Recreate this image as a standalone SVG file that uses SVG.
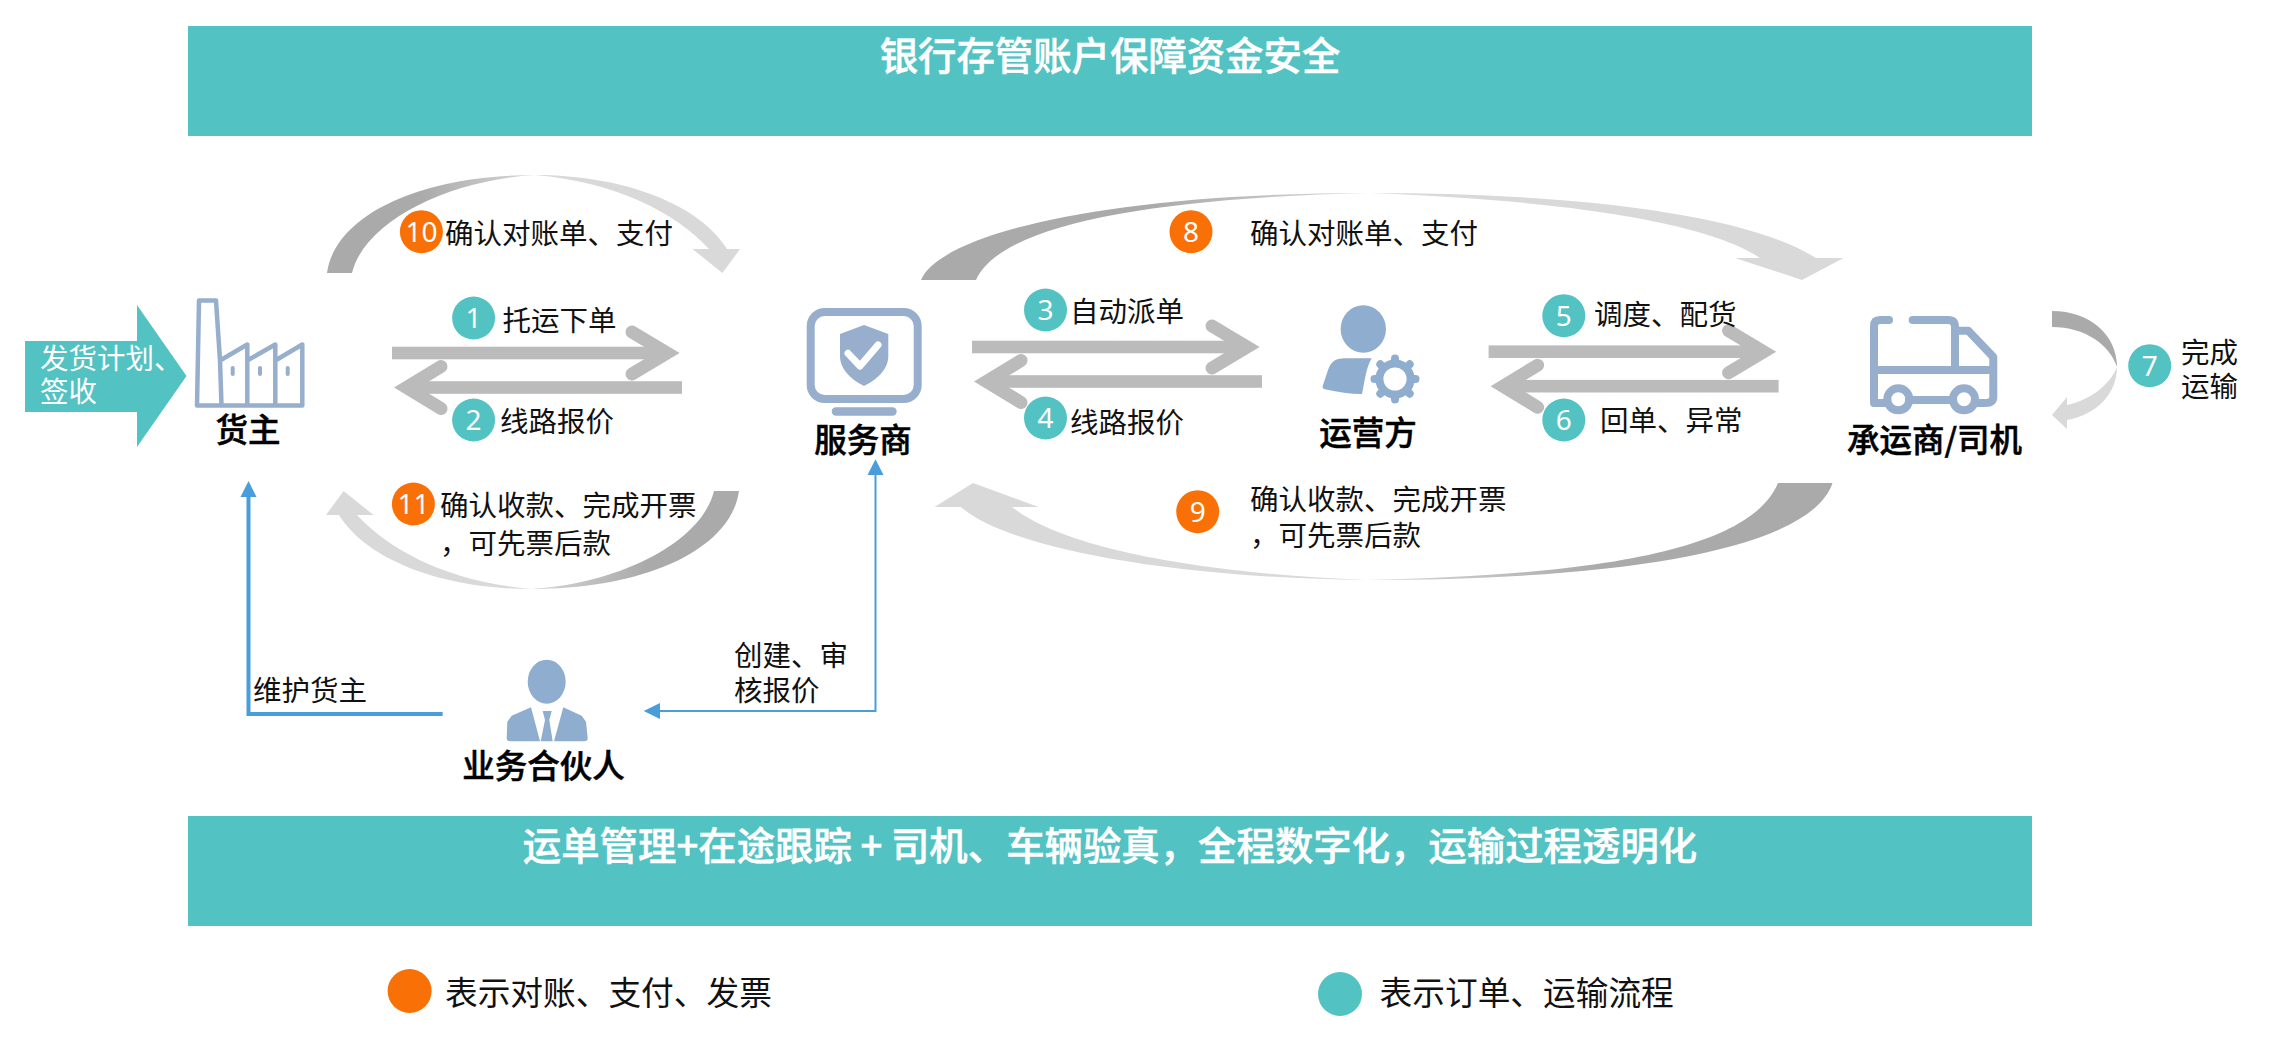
<svg xmlns="http://www.w3.org/2000/svg" xmlns:xlink="http://www.w3.org/1999/xlink" width="2272" height="1040" viewBox="0 0 2272 1040">
<style>
text{font-family:"Noto Sans CJK SC","Noto Sans",sans-serif;fill:#111}
.t{font-size:28.5px}
.n{font-size:32.5px;font-weight:500;text-anchor:middle;fill:#000;stroke:#000;stroke-width:.5}
.lg{font-size:32.7px}
.bt{font-size:38.4px;font-weight:500;fill:#fff;text-anchor:middle;stroke:#fff;stroke-width:.5}
.num{font-size:28px;fill:#fff;text-anchor:middle;font-family:"Noto Sans",sans-serif}
.teal{fill:#53C2C2}.orange{fill:#F97106}
.ic{fill:none;stroke:#97AECC;stroke-width:8;stroke-linecap:round;stroke-linejoin:round}
.fi{fill:#8FADCE}
.bar{fill:#BBBBBB}
.chev{fill:none;stroke:#BBBBBB;stroke-width:13;stroke-linecap:round;stroke-linejoin:miter}
.lt{fill:#D9D9D9}
.blue{fill:none;stroke:#4A9DDB}
.bh{fill:#4A9DDB}
</style>
<defs>
<linearGradient id="gr1" gradientUnits="userSpaceOnUse" x1="420" y1="0" x2="540" y2="0"><stop offset="0" stop-color="#AAAAAA"/><stop offset="1" stop-color="#D9D9D9"/></linearGradient>
<linearGradient id="gr2" gradientUnits="userSpaceOnUse" x1="1150" y1="0" x2="1370" y2="0"><stop offset="0" stop-color="#AAAAAA"/><stop offset="1" stop-color="#D9D9D9"/></linearGradient>
<linearGradient id="gr3" gradientUnits="userSpaceOnUse" x1="1600" y1="0" x2="1370" y2="0"><stop offset="0" stop-color="#AAAAAA"/><stop offset="1" stop-color="#D9D9D9"/></linearGradient>
<g id="pair">
<rect class="bar" x="392" y="346.7" width="276" height="12.6"/>
<path class="chev" d="M632,332L667,353L632,374"/>
<rect class="bar" x="406" y="381.2" width="276" height="12.6"/>
<path class="chev" d="M441,366.5L406.5,387.5L441,408.5"/>
</g>
<g id="curve"><path fill="url(#gr1)" d="M327,273C335,215 420,175 535,175C450,180 365,220 352,273Z"/><path class="lt" d="M535,175C625,175 700,205 727,249L740,249L722.4,273L692.5,249L709,249C675,212 615,182 535,175Z"/></g>
</defs>

<g id="bank-banner"><rect class="teal" x="188" y="26" width="1844" height="110"/><text class="bt" x="1110" y="70">银行存管账户保障资金安全</text></g>
<g id="transport-banner"><rect class="teal" x="188" y="816" width="1844" height="110"/><text class="bt" x="1110" y="860">运单管理+在途跟踪 + 司机、车辆验真，全程数字化，运输过程透明化</text></g>

<g id="connectors">
<use href="#pair"/>
<use href="#pair" transform="translate(580,-6)"/>
<use href="#pair" transform="translate(1096.6,-1.3)"/>
<use href="#curve"/>
<use href="#curve" transform="rotate(180 533 382)"/>
<path fill="url(#gr2)" d="M921,280C940,235 1100,193 1370,193C1150,198 1000,225 976,280Z"/>
<path class="lt" d="M1370,193C1550,193 1740,210 1816,258L1843.6,258L1802,280L1735,258L1760,258C1700,217 1530,199 1370,193Z"/>
<path class="lt" d="M1366,580C1180,578 1010,550 961,507L934.5,507L973,483L1038.7,507L1012,507C1070,553 1220,574 1366,580Z"/>
<path fill="url(#gr3)" d="M1832.5,483C1810,550 1620,580 1366,580C1600,575 1750,550 1778,483Z"/>
<path fill="#AAAAAA" d="M2052,311C2090,311 2117,335 2117,367C2110,345 2085,327 2052,327Z"/>
<path class="lt" d="M2117,367C2117,395 2095,415 2067,420L2067,429L2052,415L2067,397L2067,405C2090,400 2110,385 2117,367Z"/>
<path class="blue" stroke-width="4" d="M442.6,714H248.5V495"/>
<path class="bh" d="M248.5,481L256.5,497H240.5Z"/>
<path class="blue" stroke-width="2" d="M875.5,473V711H658"/>
<path class="bh" d="M875.5,459.3L883.5,475H867.5Z"/>
<path class="bh" d="M643.7,711L660,703V719Z"/>
</g>

<g id="shipper-plan"><path class="teal" d="M25,341H137V305L186.5,376L137,447V412H25Z"/>
<text class="t" x="40" y="369" style="fill:#fff">发货计划、</text><text class="t" x="40" y="402" style="fill:#fff">签收</text></g>

<g id="shipper">
<path class="ic" style="stroke-width:4.5" d="M197,405.5L199,300.5H216L220,360.5L247.3,344.5V405.5M220,360.5L221.5,405.5M247.3,360.5L275.3,344.5V405.5M275.3,360.5L302.3,344.5V405.5H197"/>
<g class="fi" style="fill:#97AECC"><rect x="230.7" y="366" width="4" height="10" rx="2"/><rect x="258" y="366" width="4" height="10" rx="2"/><rect x="285.7" y="366" width="4" height="10" rx="2"/></g>
<text class="n" x="248" y="441.5">货主</text></g>

<g id="provider">
<rect class="ic" x="810.7" y="312" width="107" height="87" rx="14"/>
<rect x="831.7" y="407.3" width="65" height="8.4" rx="4.2" fill="#97AECC"/>
<path fill="#97AECC" d="M864,325L888.3,334V356C888.3,370 876,380 864,386C852,380 840,370 840,356V334Z"/>
<path fill="none" stroke="#fff" stroke-width="7" stroke-linecap="round" stroke-linejoin="round" d="M848,353.3L860,366L878,345"/>
<text class="n" x="863" y="451.5">服务商</text></g>

<g id="operator">
<ellipse class="fi" cx="1363.3" cy="329" rx="22.7" ry="23.7"/>
<path class="fi" d="M1371.7,358.3H1345C1335,358.3 1331,362 1328,370L1322.7,386C1322,388 1323,389 1326,389.5C1338,392 1350,394 1362,394C1365,380 1366,368 1371.7,358.3Z"/>
<circle cx="1395" cy="379" r="15.6" fill="none" stroke="#8FADCE" stroke-width="8"/>
<path fill="none" stroke="#8FADCE" stroke-width="8" stroke-linecap="round" d="M1395,359.5V358.5M1395,399.5V398.5M1375.5,379H1374.5M1415.5,379H1414.5M1381,365L1380.3,364.3M1409,393L1409.7,393.7M1409,365L1409.7,364.3M1381,393L1380.3,393.7"/>
<text class="n" x="1368" y="444.5">运营方</text></g>

<g id="carrier">
<path class="ic" d="M1889,320H1880Q1874,320 1874,326V403H1885M1912.7,320H1948Q1955,320 1955,327V370M1955,330.7H1968.3L1993.3,357V397Q1993.3,403 1985,403H1977M1874,370H1993.3M1909,400H1953"/>
<circle class="ic" cx="1898.3" cy="399.3" r="11"/><circle class="ic" cx="1964" cy="399.3" r="11"/>
<text class="n" x="1934.5" y="451.5">承运商/司机</text></g>

<g id="partner">
<ellipse class="fi" cx="546.7" cy="681.7" rx="19" ry="22"/>
<path class="fi" d="M531,707.3L511.7,715.7L507.3,721.7L506.7,738Q506.7,741.3 510,741.3H540ZM563.3,707.3L581.7,715.7L586,721.7L587.7,738Q587.7,741.3 584,741.3H554ZM542.7,711H551.7L549.3,720L552.7,741.3H540.7L545,720Z"/>
<text class="n" x="543.6" y="777.5">业务合伙人</text></g>

<g id="labels">
<text class="t" x="445" y="243.5">确认对账单、支付</text>
<text class="t" x="502.5" y="331">托运下单</text>
<text class="t" x="500" y="431.5">线路报价</text>
<text class="t" x="440" y="515.5">确认收款、完成开票</text>
<text class="t" x="440" y="553.5">，可先票后款</text>
<text class="t" x="1070" y="322">自动派单</text>
<text class="t" x="1070" y="432.5">线路报价</text>
<text class="t" x="1250" y="243.5">确认对账单、支付</text>
<text class="t" x="1250" y="509.5">确认收款、完成开票</text>
<text class="t" x="1250" y="545.5">，可先票后款</text>
<text class="t" x="1594" y="324.5">调度、配货</text>
<text class="t" x="1600" y="430.5">回单、异常</text>
<text class="t" x="2181" y="363">完成</text>
<text class="t" x="2181" y="397">运输</text>
<text class="t" x="253" y="700.5">维护货主</text>
<text class="t" x="734" y="665.5">创建、审</text>
<text class="t" x="734" y="700.5">核报价</text>
</g>

<g id="step-badges">
<circle class="orange" cx="421.4" cy="231.7" r="21.5"/><text class="num" x="421.4" y="241.5">10</text>
<circle class="teal" cx="473.6" cy="318" r="21.5"/><text class="num" x="473.6" y="328">1</text>
<circle class="teal" cx="473.6" cy="420" r="21.5"/><text class="num" x="473.6" y="430">2</text>
<circle class="orange" cx="413.4" cy="504" r="21.5"/><text class="num" x="413.4" y="514">11</text>
<circle class="teal" cx="1045.5" cy="310" r="21.5"/><text class="num" x="1045.5" y="320">3</text>
<circle class="teal" cx="1045.5" cy="418" r="21.5"/><text class="num" x="1045.5" y="428">4</text>
<circle class="orange" cx="1191" cy="231.7" r="21.5"/><text class="num" x="1191" y="241.5">8</text>
<circle class="orange" cx="1197.7" cy="511.7" r="21.5"/><text class="num" x="1197.7" y="521.5">9</text>
<circle class="teal" cx="1563.8" cy="315.7" r="21.5"/><text class="num" x="1563.8" y="325.5">5</text>
<circle class="teal" cx="1563.8" cy="420" r="21.5"/><text class="num" x="1563.8" y="430">6</text>
<circle class="teal" cx="2149.7" cy="365.7" r="21.5"/><text class="num" x="2149.7" y="375.5">7</text>
</g>

<g id="legend">
<circle class="orange" cx="409.6" cy="991" r="22"/><text class="lg" x="445" y="1005">表示对账、支付、发票</text>
<circle class="teal" cx="1340" cy="994" r="22"/><text class="lg" x="1379.6" y="1005">表示订单、运输流程</text>
</g>
</svg>
